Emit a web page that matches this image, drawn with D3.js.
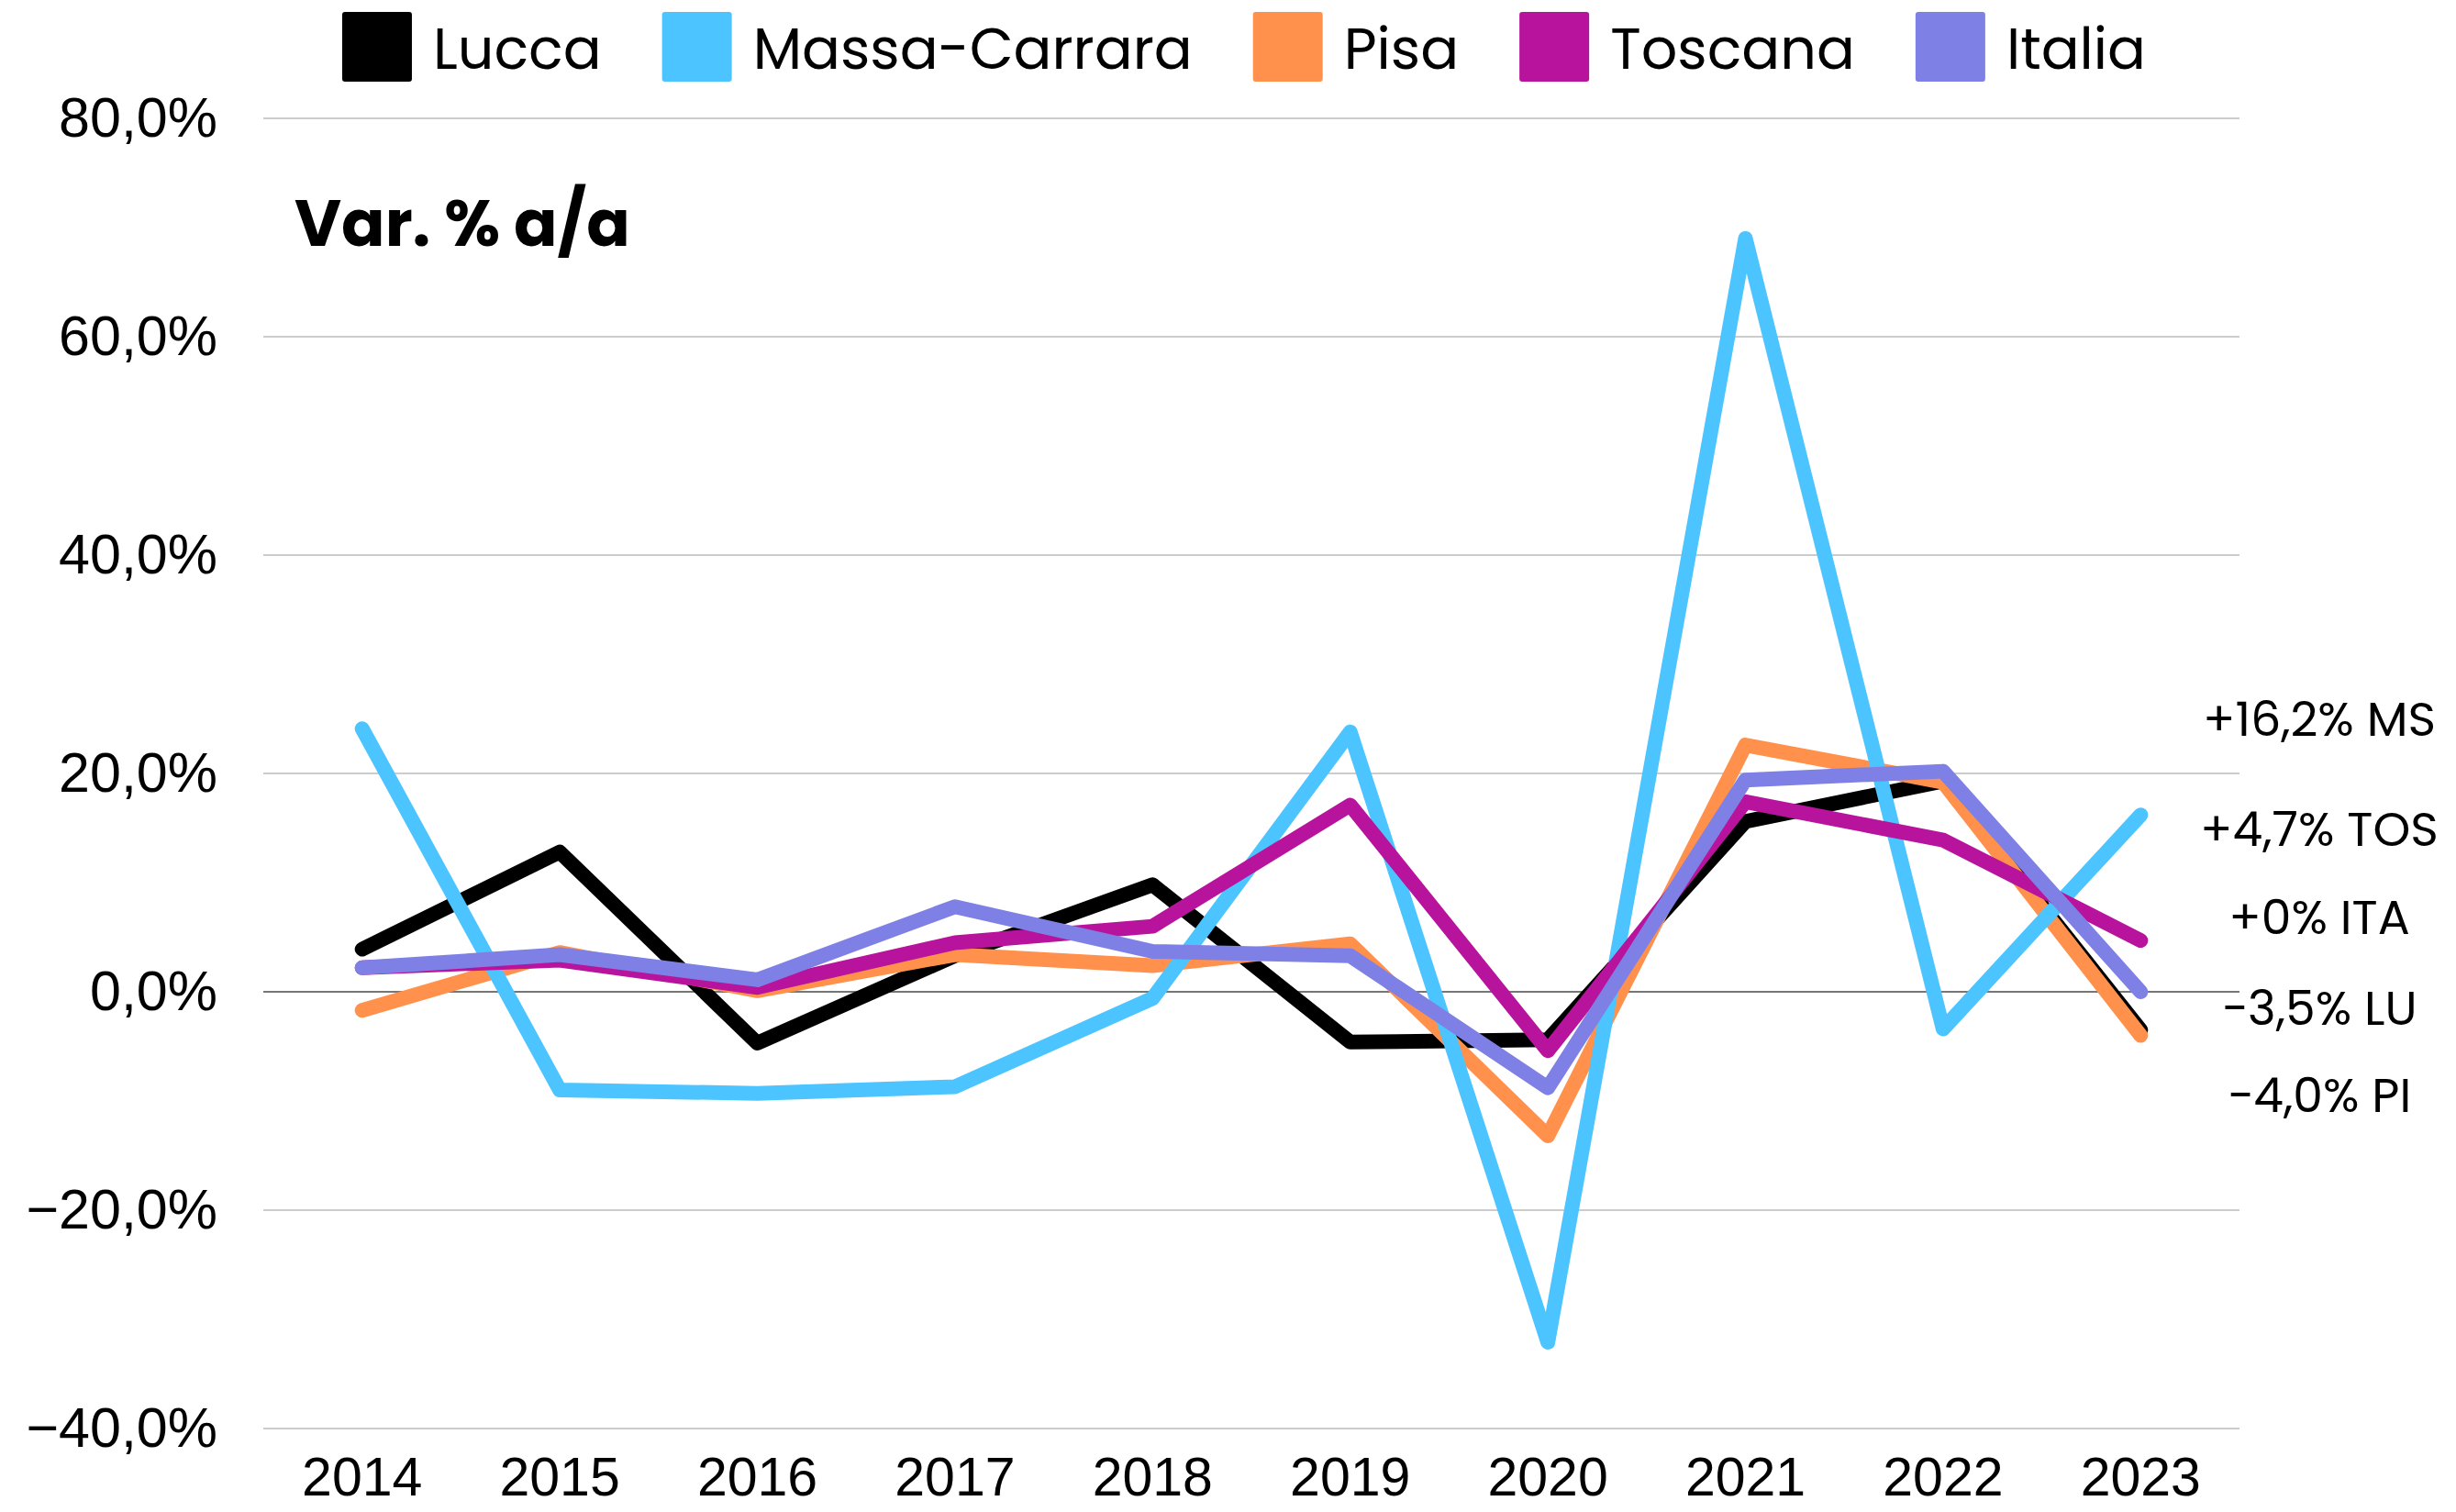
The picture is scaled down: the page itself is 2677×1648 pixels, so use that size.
<!DOCTYPE html>
<html>
<head>
<meta charset="utf-8">
<script src="https://cdn.jsdelivr.net/npm/d3@7"></script>
<style>
  html, body { margin: 0; padding: 0; background: #fff; }
  svg { display: block; font-family: "Poppins", "Inter", "Noto Sans", sans-serif; }
</style>
</head>
<body>
<svg id="chart" width="2677" height="1648"></svg>
<script>
// ---------- data ----------
const years = ["2014","2015","2016","2017","2018","2019","2020","2021","2022","2023"];
const lucca   = [3.9, 12.8, -4.7, 3.3, 9.8, -4.6, -4.4, 15.6, 19.3, -3.5];
const massa   = [24.1, -9.0, -9.3, -8.7, -0.6, 23.8, -32.1, 69.0, -3.4, 16.2];
const pisa    = [-1.7, 3.6, 0.1, 3.4, 2.4, 4.4, -13.2, 22.6, 19.2, -4.0];
const toscana = [2.2, 2.9, 0.4, 4.5, 6.0, 17.1, -5.4, 17.4, 13.9, 4.7];
const italia  = [2.2, 3.4, 1.1, 7.8, 3.7, 3.3, -8.8, 19.4, 20.2, 0.0];
const seriesNames  = ["Lucca", "Massa-Carrara", "Pisa", "Toscana", "Italia"];
const seriesColors = ["#000000", "#4CC4FF", "#FF914D", "#B8139C", "#7E80E5"];
const yTicks = [-40, -20, 0, 20, 40, 60, 80];
const endLabels = ["+16,2% MS", "+4,7% TOS", "+0% ITA", "\u22123,5% LU", "\u22124,0% PI"];
const titleText = "Var. % a/a";

// ---------- layout ----------
const W = 2677, H = 1648;
const plot = { left: 287, right: 2441, top: 129, bottom: 1557 };
const svg = d3.select("#chart");

const x = d3.scaleBand().domain(years).range([plot.left, plot.right]).padding(0);
const y = d3.scaleLinear().domain([-40, 80]).range([plot.bottom, plot.top]);

const locale = d3.formatLocale({ decimal: ",", thousands: ".", grouping: [3], currency: ["", "€"], minus: "\u2212" });
const fmt = locale.format(".1f");

// gridlines
svg.append("g").selectAll("line").data(yTicks).join("line")
  .attr("x1", plot.left).attr("x2", plot.right)
  .attr("y1", d => y(d)).attr("y2", d => y(d))
  .attr("stroke", d => d === 0 ? "#767676" : "#cccccc")
  .attr("stroke-width", 2.2);

// y axis
const yAxis = svg.append("g").attr("transform", `translate(${plot.left},0)`)
  .call(d3.axisLeft(y).tickValues(yTicks).tickSize(0).tickPadding(50).tickFormat(d => fmt(d) + "%"));
yAxis.select(".domain").remove();
yAxis.selectAll("text").attr("font-size", 61).attr("fill", "#000").style("font-family", "inherit");

// x axis
const xAxis = svg.append("g").attr("transform", `translate(0,${plot.bottom})`)
  .call(d3.axisBottom(x).tickSize(0).tickPadding(31));
xAxis.select(".domain").remove();
xAxis.selectAll("text").attr("font-size", 59).attr("fill", "#000").style("font-family", "inherit");

// lines
const allSeries = [lucca, massa, pisa, toscana, italia];
const drawOrder = [0, 2, 1, 3, 4];
const line = d3.line()
  .x((d, i) => x(years[i]) + x.bandwidth() / 2)
  .y(d => y(d));
svg.append("g").selectAll("path").data(drawOrder).join("path")
  .attr("d", k => line(allSeries[k]))
  .attr("fill", "none")
  .attr("stroke", k => seriesColors[k])
  .attr("stroke-width", 16)
  .attr("stroke-linecap", "round")
  .attr("stroke-linejoin", "round");

// title
svg.append("text").attr("x", 321).attr("y", 268)
  .attr("font-size", 70).attr("font-weight", 700).attr("fill", "#000")
  .text(titleText);

// end labels
const endBaselines = [802, 922, 1018, 1117, 1212];
svg.append("g").selectAll("text").data(endLabels).join("text")
  .attr("x", 2528).attr("y", (d, i) => endBaselines[i])
  .attr("text-anchor", "middle")
  .attr("font-size", 52).attr("fill", "#000")
  .text(d => d);

// legend
const legend = svg.append("g");
const sq = 76, gapText = 23, gapItem = 66;
const items = legend.selectAll("g").data(seriesNames).join("g");
items.append("rect").attr("width", sq).attr("height", sq).attr("y", 13).attr("rx", 3)
  .attr("fill", (d, i) => seriesColors[i]);
items.append("text").attr("x", sq + gapText).attr("y", 75)
  .attr("font-size", 62).attr("fill", "#000").text(d => d);
const widths = [];
items.each(function () { widths.push(this.querySelector("text").getComputedTextLength()); });
const total = widths.reduce((a, w) => a + sq + gapText + w, 0) + gapItem * (widths.length - 1);
let start = 1356 - total / 2;
items.attr("transform", (d, i) => {
  const t = `translate(${start},0)`;
  start += sq + gapText + widths[i] + gapItem;
  return t;
});
</script>
</body>
</html>
